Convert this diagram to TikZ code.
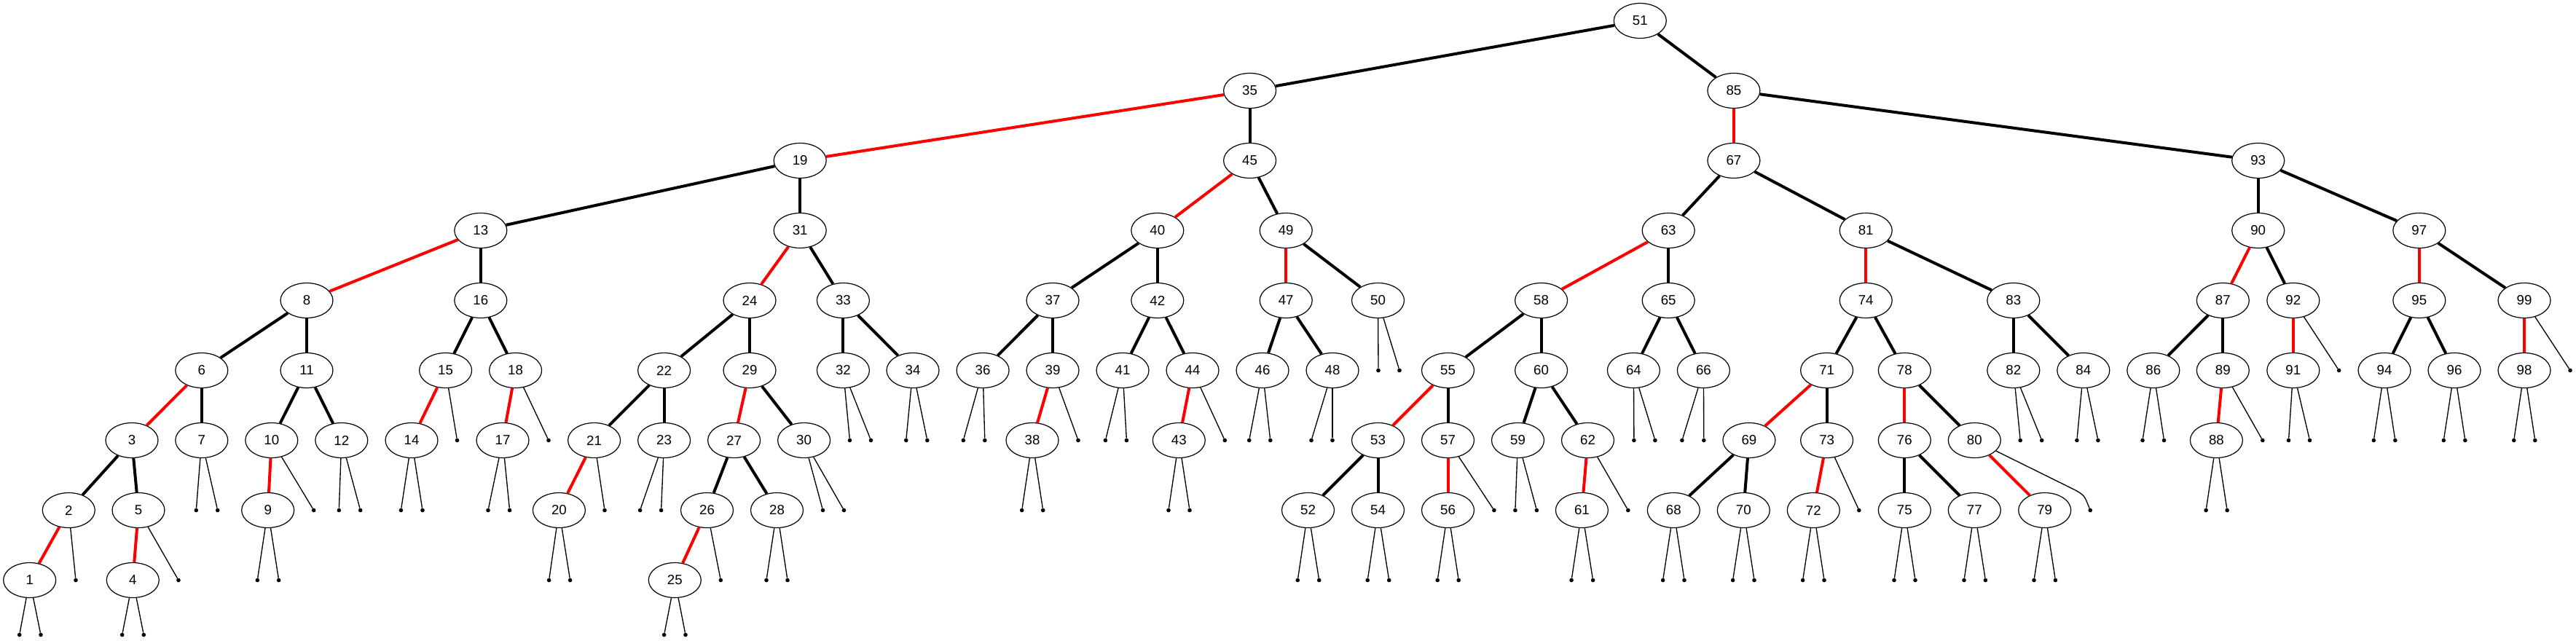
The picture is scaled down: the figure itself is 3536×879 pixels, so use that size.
\documentclass[tikz,border=0pt]{standalone}
\usepackage{fontspec}
\setmainfont{Liberation Sans}
\usetikzlibrary{shapes.geometric}
\tikzset{
  rb/.style={ellipse, draw, line width=0.9pt, minimum width=54pt, minimum height=36pt, inner sep=0pt, font=\fontsize{14pt}{16pt}\selectfont},
  nilpt/.style={circle, fill=black, draw=none, inner sep=0pt, minimum size=4.2pt},
  bk/.style={line width=3pt, black},
  rd/.style={line width=3pt, red},
  nl/.style={line width=1pt, black}
}
\begin{document}
\begin{tikzpicture}[x=0.75pt, y=-0.75pt]
\useasboundingbox (0,0) rectangle (3536,879);
% key nodes: key / x / y
\foreach \k/\x/\y in {
 51/2251.3/28.5,
 35/1715.6/124.5, 85/2379.9/124.5,
 19/1098.2/220.5, 45/1715.6/220.5, 67/2379.9/220.5, 93/3099.7/220.5,
 13/659.8/316.5, 31/1098.2/316.5, 40/1588.8/316.5, 49/1765.2/316.5, 63/2290.2/316.5, 81/2561.2/316.5, 90/3099.7/316.5, 97/3320.8/316.5,
 8/421/412.5, 16/659.8/412.5, 24/1029/412.5, 33/1157.4/412.5, 37/1445/412.5, 42/1588.8/412.5, 47/1765.2/412.5, 50/1891.5/412.5,
 58/2115.6/412.5, 65/2290.2/412.5, 74/2561.2/412.5, 83/2763.8/412.5, 87/3051.3/412.5, 92/3147.8/412.5, 95/3320.8/412.5, 99/3465/412.5,
 6/276.8/508.5, 11/421/508.5, 15/611.6/508.5, 18/707.6/508.5, 22/911.6/508.5, 29/1029/508.5, 32/1157.4/508.5, 34/1253/508.5,
 36/1349.1/508.5, 39/1445/508.5, 41/1541/508.5, 44/1637/508.5, 46/1733/508.5, 48/1829/508.5, 55/1987.5/508.5, 60/2115.6/508.5,
 64/2242.4/508.5, 66/2338.4/508.5, 71/2507.6/508.5, 78/2614.3/508.5, 82/2763.8/508.5, 84/2859.8/508.5, 86/2955.8/508.5,
 89/3051.3/508.5, 91/3147.8/508.5, 94/3273/508.5, 96/3369/508.5, 98/3465/508.5,
 3/181/604.5, 7/276.8/604.5, 10/372.8/604.5, 12/468.8/604.5, 14/565/604.5, 17/690/604.5, 21/815.6/604.5, 23/911.6/604.5,
 27/1007.6/604.5, 30/1103.6/604.5, 38/1417/604.5, 43/1618.3/604.5, 53/1891.5/604.5, 57/1987.5/604.5, 59/2083.5/604.5,
 62/2179.5/604.5, 69/2400.9/604.5, 73/2507.6/604.5, 76/2614.3/604.5, 80/2710.3/604.5, 88/3042.4/604.5,
 2/94.3/700.5, 5/190/700.5, 9/367.7/700.5, 20/767.4/700.5, 26/970.5/700.5, 28/1066.5/700.5, 52/1795.5/700.5, 54/1891.5/700.5,
 56/1987.5/700.5, 61/2171.4/700.5, 68/2297.3/700.5, 70/2393.3/700.5, 72/2489.3/700.5, 75/2614.3/700.5, 77/2710.3/700.5, 79/2806.7/700.5,
 1/40.7/796.5, 4/182.3/796.5, 25/926.3/796.5}
 \node[rb] (n\k) at (\x,\y) {\k};
% nil leaves: name / x / y
\foreach \k/\x/\y in {
 50a/1892/508.5, 50b/1921/508.5, 92/3210.6/508.5, 99/3528/508.5,
 15/627.5/604.5, 18/753/604.5, 32a/1166.5/604.5, 32b/1195.5/604.5, 34a/1243.75/604.5, 34b/1272.8/604.5,
 36a/1322.3/604.5, 36b/1351.8/604.5, 39/1480/604.5, 41a/1517.4/604.5, 41b/1546.4/604.5, 44/1681.25/604.5,
 46a/1714.7/604.5, 46b/1743.75/604.5, 48a/1800/604.5, 48b/1829/604.5, 64a/2242.9/604.5, 64b/2271.9/604.5,
 66a/2308.9/604.5, 66b/2338.8/604.5, 82a/2773.2/604.5, 82b/2802.7/604.5, 84a/2850.9/604.5, 84b/2879.9/604.5,
 86a/2941/604.5, 86b/2970.5/604.5, 89/3105.8/604.5, 91a/3141.5/604.5, 91b/3170.5/604.5, 94a/3258.3/604.5, 94b/3287.8/604.5,
 96a/3354.3/604.5, 96b/3383.8/604.5, 98a/3450.7/604.5, 98b/3479.75/604.5,
 7a/269.3/700.5, 7b/298.7/700.5, 10/430.7/700.5, 12a/465.3/700.5, 12b/494.7/700.5, 14a/550.4/700.5, 14b/580/700.5,
 17a/670/700.5, 17b/699.6/700.5, 21/830/700.5, 23a/878.6/700.5, 23b/907.6/700.5, 30a/1129.5/700.5, 30b/1158.5/700.5,
 38a/1402.7/700.5, 38b/1431.7/700.5, 43a/1604/700.5, 43b/1633/700.5, 57/2050.9/700.5, 59a/2079.9/700.5, 59b/2109.4/700.5,
 62/2234.8/700.5, 73/2551.8/700.5, 80/2869.2/700.5, 88a/3028.1/700.5, 88b/3057.1/700.5,
 2/104/796.5, 5/245/796.5, 9a/353.3/796.5, 9b/382.7/796.5, 20a/753.6/796.5, 20b/782.6/796.5, 26/989.3/796.5,
 28a/1052/796.5, 28b/1081/796.5, 52a/1781.25/796.5, 52b/1810.7/796.5, 54a/1877.2/796.5, 54b/1906.7/796.5,
 56a/1973.2/796.5, 56b/2002.2/796.5, 61a/2157.1/796.5, 61b/2186.6/796.5, 68a/2282.6/796.5, 68b/2312/796.5,
 70a/2378.6/796.5, 70b/2408/796.5, 72a/2474.6/796.5, 72b/2504/796.5, 75a/2600/796.5, 75b/2629/796.5,
 77a/2696/796.5, 77b/2725.4/796.5, 79a/2792/796.5, 79b/2821.4/796.5,
 1a/26.7/871.5, 1b/56/871.5, 4a/167.7/871.5, 4b/197.3/871.5, 25a/911.6/871.5, 25b/941/871.5}
 \node[nilpt] (z\k) at (\x,\y) {};
% black edges
\foreach \a/\b in {51/35, 51/85, 35/45, 19/13, 19/31, 13/16, 8/6, 8/11, 6/7, 3/2, 3/5, 11/10, 11/12, 16/15, 16/18,
 31/33, 24/22, 24/29, 22/21, 22/23, 29/30, 27/26, 27/28, 33/32, 33/34, 45/49, 40/37, 40/42, 37/36, 37/39, 42/41, 42/44,
 49/50, 47/46, 47/48, 85/93, 67/63, 67/81, 63/65, 58/55, 58/60, 55/57, 53/52, 53/54, 60/59, 60/62, 65/64, 65/66, 81/83,
 74/71, 74/78, 71/73, 69/68, 69/70, 76/75, 76/77, 78/80, 83/82, 83/84, 93/90, 93/97, 90/92, 87/86, 87/89, 97/99, 95/94, 95/96}
 \draw[bk] (n\a) -- (n\b);
% red edges
\foreach \a/\b in {35/19, 13/8, 6/3, 2/1, 5/4, 10/9, 15/14, 18/17, 31/24, 21/20, 29/27, 26/25, 45/40, 39/38, 44/43, 49/47,
 85/67, 63/58, 55/53, 57/56, 62/61, 81/74, 71/69, 73/72, 78/76, 80/79, 90/87, 89/88, 92/91, 97/95, 99/98}
 \draw[rd] (n\a) -- (n\b);
% nil edges
\foreach \a/\b in {1/1a, 1/1b, 2/2, 4/4a, 4/4b, 5/5, 7/7a, 7/7b, 9/9a, 9/9b, 10/10, 12/12a, 12/12b, 14/14a, 14/14b, 15/15,
 17/17a, 17/17b, 18/18, 20/20a, 20/20b, 21/21, 23/23a, 23/23b, 25/25a, 25/25b, 26/26, 28/28a, 28/28b, 30/30a, 30/30b,
 32/32a, 32/32b, 34/34a, 34/34b, 36/36a, 36/36b, 38/38a, 38/38b, 39/39, 41/41a, 41/41b, 43/43a, 43/43b, 44/44,
 46/46a, 46/46b, 48/48a, 48/48b, 50/50a, 50/50b, 52/52a, 52/52b, 54/54a, 54/54b, 56/56a, 56/56b, 57/57, 59/59a, 59/59b,
 61/61a, 61/61b, 62/62, 64/64a, 64/64b, 66/66a, 66/66b, 68/68a, 68/68b, 70/70a, 70/70b, 72/72a, 72/72b, 73/73,
 75/75a, 75/75b, 77/77a, 77/77b, 79/79a, 79/79b, 82/82a, 82/82b, 84/84a, 84/84b, 86/86a, 86/86b, 88/88a, 88/88b, 89/89,
 91/91a, 91/91b, 92/92, 94/94a, 94/94b, 96/96a, 96/96b, 98/98a, 98/98b, 99/99}
 \draw[nl] (n\a) -- (z\b);
% curved nil edge of 80
\coordinate (c80) at (2849,673);
\draw[nl] (n80) -- (c80) .. controls (2861,680) .. (z80);
\end{tikzpicture}
\end{document}
